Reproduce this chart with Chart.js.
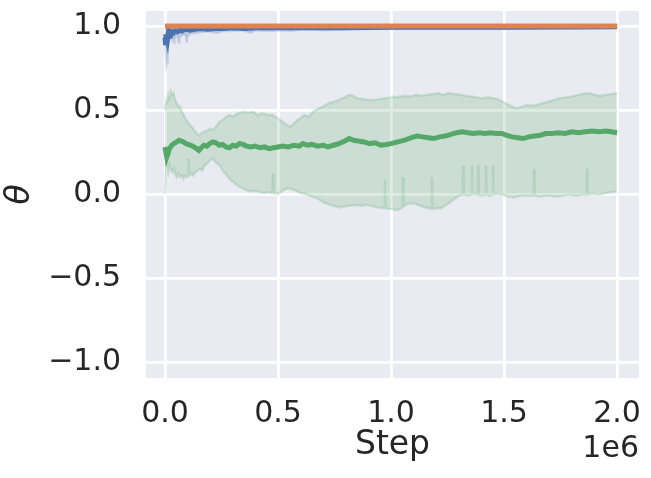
<!DOCTYPE html>
<html>
<head>
<meta charset="utf-8">
<script src="https://cdn.jsdelivr.net/npm/chart.js@4.4.1/dist/chart.umd.min.js"></script>
<style>
  html, body { margin: 0; padding: 0; background: #ffffff; }
  #wrap { width: 651px; height: 478px; }
</style>
</head>
<body>
<div id="wrap"><canvas id="chart" width="651" height="478"></canvas></div>
<script>
// x values are training steps in thousands (axis shows them as x1e6)
const xTickValues = [0, 500, 1000, 1500, 2000];
const xTickLabels = ['0.0', '0.5', '1.0', '1.5', '2.0'];
const yTickValues = [-1, -0.5, 0, 0.5, 1];
const yTickLabels = ['\u22121.0', '\u22120.5', '0.0', '0.5', '1.0'];
const offsetLabel = '1e6';

// orange: parameter pinned at 1
const orangeSteps = [0, 2000];
const orangeVals = [1.0, 1.0];

// blue: mean and lower edge of its spread
const blueMeanSteps = [0, 2, 4, 6, 8, 11, 14, 18, 22, 27, 32, 38, 45, 55, 65, 75, 90, 110, 130, 160, 190, 220, 260, 300, 350, 400, 500, 600, 800, 1000, 1500, 2000];
const blueMeanVals = [0.93, 0.90, 0.95, 0.91, 0.94, 0.92, 0.95, 0.94, 0.96, 0.95, 0.965, 0.96, 0.97, 0.965, 0.975, 0.97, 0.98, 0.975, 0.98, 0.985, 0.98, 0.985, 0.985, 0.99, 0.985, 0.99, 0.99, 0.99, 0.99, 0.993, 0.993, 0.995];
const blueLowSteps = [0, 3, 5, 7, 9, 11, 13, 16, 20, 25, 30, 36, 39, 40, 42, 48, 56, 60, 62, 64, 75, 90, 95, 97, 99, 115, 140, 170, 200, 230, 260, 300, 340, 380, 400, 450, 520, 560, 600, 650, 700, 800, 1000, 1200, 1500, 1800, 2000];
const blueLowVals = [0.90, 0.86, 0.80, 0.77, 0.78, 0.85, 0.90, 0.91, 0.92, 0.93, 0.92, 0.935, 0.91, 0.90, 0.92, 0.94, 0.94, 0.91, 0.90, 0.93, 0.945, 0.95, 0.92, 0.90, 0.94, 0.955, 0.96, 0.965, 0.965, 0.96, 0.97, 0.97, 0.975, 0.96, 0.975, 0.97, 0.975, 0.97, 0.98, 0.98, 0.975, 0.98, 0.985, 0.985, 0.985, 0.985, 0.99];
const blueHighSteps = [0, 2000];
const blueHighVals = [1.0, 1.0];

// green: mean and spread band
const greenMeanSteps = [0, 4, 8, 13, 20, 30, 40, 52, 62, 72, 82, 92, 102, 115, 128, 140, 150, 160, 172, 185, 198, 212, 225, 240, 255, 270, 285, 300, 315, 330, 345, 360, 380, 400, 420, 440, 460, 480, 500, 520, 545, 570, 595, 610, 630, 650, 675, 700, 720, 745, 770, 795, 815, 835, 855, 880, 905, 930, 955, 980, 1000, 1030, 1060, 1090, 1115, 1140, 1165, 1190, 1215, 1240, 1265, 1290, 1315, 1340, 1365, 1390, 1415, 1440, 1465, 1490, 1510, 1535, 1560, 1585, 1610, 1635, 1660, 1685, 1710, 1740, 1770, 1800, 1830, 1860, 1890, 1920, 1950, 1975, 2000];
const greenMeanVals = [0.28, 0.25, 0.22, 0.24, 0.27, 0.29, 0.30, 0.31, 0.32, 0.315, 0.31, 0.30, 0.295, 0.29, 0.28, 0.27, 0.26, 0.275, 0.29, 0.285, 0.30, 0.31, 0.305, 0.29, 0.295, 0.28, 0.275, 0.29, 0.285, 0.30, 0.295, 0.285, 0.28, 0.285, 0.275, 0.28, 0.27, 0.275, 0.28, 0.285, 0.28, 0.29, 0.285, 0.30, 0.29, 0.295, 0.285, 0.29, 0.28, 0.29, 0.30, 0.315, 0.33, 0.32, 0.315, 0.31, 0.30, 0.305, 0.29, 0.295, 0.30, 0.31, 0.32, 0.335, 0.345, 0.34, 0.335, 0.33, 0.34, 0.345, 0.355, 0.365, 0.37, 0.365, 0.36, 0.365, 0.36, 0.365, 0.36, 0.36, 0.35, 0.34, 0.335, 0.33, 0.34, 0.345, 0.35, 0.36, 0.36, 0.365, 0.36, 0.37, 0.365, 0.37, 0.375, 0.37, 0.375, 0.37, 0.365];
const greenHighSteps = [0, 5, 10, 15, 20, 26, 32, 38, 45, 55, 65, 75, 90, 105, 118, 130, 140, 150, 160, 172, 186, 199, 212, 225, 240, 255, 270, 285, 300, 320, 345, 370, 390, 410, 430, 455, 475, 500, 520, 540, 555, 570, 585, 600, 615, 635, 655, 680, 700, 725, 745, 770, 795, 815, 830, 850, 875, 900, 925, 950, 975, 1000, 1010, 1025, 1040, 1060, 1085, 1110, 1135, 1160, 1185, 1210, 1230, 1255, 1280, 1305, 1330, 1355, 1380, 1405, 1430, 1455, 1480, 1500, 1520, 1540, 1560, 1580, 1600, 1620, 1645, 1670, 1695, 1720, 1745, 1770, 1800, 1830, 1860, 1880, 1900, 1925, 1950, 1975, 2000];
const greenHighVals = [0.50, 0.56, 0.55, 0.59, 0.57, 0.61, 0.59, 0.60, 0.56, 0.53, 0.52, 0.49, 0.45, 0.42, 0.40, 0.38, 0.36, 0.35, 0.36, 0.37, 0.375, 0.39, 0.38, 0.40, 0.43, 0.44, 0.46, 0.47, 0.46, 0.48, 0.49, 0.485, 0.49, 0.47, 0.48, 0.47, 0.47, 0.45, 0.43, 0.41, 0.40, 0.42, 0.44, 0.45, 0.47, 0.46, 0.49, 0.51, 0.52, 0.54, 0.55, 0.56, 0.575, 0.59, 0.585, 0.57, 0.565, 0.56, 0.56, 0.565, 0.57, 0.575, 0.58, 0.575, 0.58, 0.585, 0.58, 0.59, 0.585, 0.59, 0.595, 0.60, 0.59, 0.60, 0.595, 0.59, 0.585, 0.58, 0.575, 0.57, 0.575, 0.57, 0.56, 0.545, 0.53, 0.515, 0.51, 0.52, 0.53, 0.525, 0.53, 0.54, 0.55, 0.56, 0.57, 0.575, 0.58, 0.59, 0.60, 0.60, 0.59, 0.585, 0.59, 0.595, 0.60];
const greenLowSteps = [0, 3, 5, 9, 14, 20, 27, 34, 40, 47, 53, 60, 68, 75, 82, 90, 97, 103, 105, 107, 115, 125, 133, 145, 155, 165, 175, 186, 198, 212, 222, 232, 243, 255, 268, 280, 292, 305, 320, 335, 350, 365, 380, 400, 420, 440, 460, 476, 478, 480, 500, 520, 544, 560, 580, 600, 620, 640, 660, 680, 700, 720, 745, 770, 795, 820, 845, 870, 895, 920, 945, 965, 971, 973, 975, 1000, 1020, 1040, 1051, 1053, 1055, 1070, 1090, 1110, 1130, 1150, 1170, 1179, 1181, 1183, 1200, 1220, 1240, 1260, 1280, 1300, 1317, 1319, 1321, 1340, 1356, 1358, 1360, 1383, 1385, 1387, 1400, 1418, 1420, 1422, 1435, 1449, 1451, 1453, 1470, 1496, 1520, 1540, 1560, 1580, 1600, 1620, 1631, 1633, 1635, 1660, 1680, 1704, 1730, 1760, 1790, 1820, 1845, 1865, 1867, 1869, 1890, 1920, 1950, 1975, 2000];
const greenLowVals = [0.00, 0.06, 0.17, 0.16, 0.13, 0.17, 0.14, 0.13, 0.15, 0.11, 0.10, 0.12, 0.10, 0.11, 0.09, 0.11, 0.10, 0.11, 0.21, 0.11, 0.12, 0.11, 0.13, 0.14, 0.15, 0.14, 0.17, 0.18, 0.20, 0.21, 0.19, 0.18, 0.17, 0.14, 0.12, 0.10, 0.08, 0.07, 0.05, 0.04, 0.03, 0.02, 0.015, 0.02, 0.01, 0.005, 0.01, 0.005, 0.12, 0.005, 0.00, 0.02, 0.035, 0.03, 0.02, 0.005, 0.00, -0.01, -0.02, -0.03, -0.05, -0.06, -0.07, -0.08, -0.075, -0.07, -0.065, -0.07, -0.065, -0.075, -0.08, -0.085, -0.08, 0.08, -0.085, -0.09, -0.095, -0.09, -0.075, 0.10, -0.075, -0.06, -0.055, -0.06, -0.07, -0.08, -0.085, -0.09, 0.10, -0.09, -0.085, -0.085, -0.07, -0.05, -0.03, -0.01, -0.005, 0.17, -0.005, -0.01, -0.005, 0.17, 0.00, -0.005, 0.17, -0.005, -0.01, -0.005, 0.17, -0.005, -0.01, -0.005, 0.17, -0.005, 0.00, -0.005, -0.015, -0.02, -0.015, -0.01, -0.01, -0.01, -0.01, 0.15, -0.01, -0.015, -0.01, -0.01, -0.015, -0.01, -0.005, -0.01, -0.005, -0.005, 0.15, -0.005, 0.00, -0.005, 0.005, 0.01, 0.015];

const BLUE = '#4C72B0';
const ORANGE = '#DD8452';
const GREEN = '#55A868';
const TEXT = '#262626';
const FONT = "'DejaVu Sans', sans-serif";

function pts(xs, ys) {
  return xs.map((x, i) => ({ x: x, y: ys[i] }));
}

// axes face colour and the x offset text
const axesDecor = {
  id: 'axesDecor',
  beforeDraw(chart) {
    const { ctx, chartArea: a } = chart;
    ctx.save();
    ctx.fillStyle = '#EAEAF2';
    ctx.fillRect(a.left, a.top, a.right - a.left, a.bottom - a.top);
    ctx.restore();
  },
  afterDraw(chart) {
    const { ctx, chartArea: a } = chart;
    ctx.save();
    ctx.font = '30px ' + FONT;
    ctx.fillStyle = TEXT;
    ctx.textAlign = 'right';
    ctx.textBaseline = 'alphabetic';
    ctx.fillText(offsetLabel, a.right, 457);
    ctx.restore();
  }
};

const lineBase = { pointRadius: 0, pointHoverRadius: 0, tension: 0, fill: false };

new Chart(document.getElementById('chart'), {
  type: 'line',
  data: {
    datasets: [
      Object.assign({}, lineBase, { label: 'orange', data: pts(orangeSteps, orangeVals), borderColor: ORANGE, borderWidth: 5, order: 0 }),
      Object.assign({}, lineBase, { label: 'blue', data: pts(blueMeanSteps, blueMeanVals), borderColor: BLUE, borderWidth: 5, order: 1 }),
      Object.assign({}, lineBase, { label: 'blue low', data: pts(blueLowSteps, blueLowVals), borderColor: 'rgba(76,114,176,0.2)', borderWidth: 2.5, order: 2 }),
      Object.assign({}, lineBase, { label: 'blue high', data: pts(blueHighSteps, blueHighVals), borderColor: 'rgba(76,114,176,0.2)', borderWidth: 2.5, backgroundColor: 'rgba(76,114,176,0.2)', fill: '-1', order: 3 }),
      Object.assign({}, lineBase, { label: 'green', data: pts(greenMeanSteps, greenMeanVals), borderColor: GREEN, borderWidth: 5, order: 4 }),
      Object.assign({}, lineBase, { label: 'green low', data: pts(greenLowSteps, greenLowVals), borderColor: 'rgba(85,168,104,0.22)', borderWidth: 2.5, order: 5 }),
      Object.assign({}, lineBase, { label: 'green high', data: pts(greenHighSteps, greenHighVals), borderColor: 'rgba(85,168,104,0.22)', borderWidth: 2.5, backgroundColor: 'rgba(85,168,104,0.2)', fill: '-1', order: 6 })
    ]
  },
  options: {
    responsive: false,
    animation: false,
    events: [],
    layout: { padding: { left: 0, top: 11, right: 12, bottom: 0 } },
    plugins: {
      legend: { display: false },
      tooltip: { enabled: false }
    },
    scales: {
      x: {
        type: 'linear',
        min: -84,
        max: 2097,
        afterBuildTicks: s => { s.ticks = xTickValues.map(v => ({ value: v })); },
        afterFit: s => { s.height = 100; s.paddingLeft = 0; s.paddingRight = 0; },
        ticks: {
          callback: v => xTickLabels[xTickValues.indexOf(v)],
          font: { family: FONT, size: 30 },
          color: TEXT,
          padding: 18,
          maxRotation: 0,
          autoSkip: false
        },
        grid: { color: '#ffffff', lineWidth: 2.8, drawTicks: false },
        border: { display: false },
        title: {
          display: true,
          text: 'Step',
          font: { family: FONT, size: 33 },
          color: TEXT,
          padding: { top: 0, bottom: 13 }
        }
      },
      y: {
        min: -1.095,
        max: 1.089,
        afterBuildTicks: s => { s.ticks = yTickValues.map(v => ({ value: v })); },
        afterFit: s => { s.width = 146; s.paddingTop = 0; s.paddingBottom = 0; },
        ticks: {
          callback: v => yTickLabels[yTickValues.indexOf(v)],
          font: { family: FONT, size: 30 },
          color: TEXT,
          padding: 25
        },
        grid: { color: '#ffffff', lineWidth: 2.8, drawTicks: false },
        border: { display: false },
        title: {
          display: true,
          text: '\u03b8',
          font: { family: FONT, size: 33, style: 'italic' },
          color: TEXT,
          padding: { top: 1, bottom: 0 }
        }
      }
    }
  },
  plugins: [axesDecor]
});
</script>
</body>
</html>
